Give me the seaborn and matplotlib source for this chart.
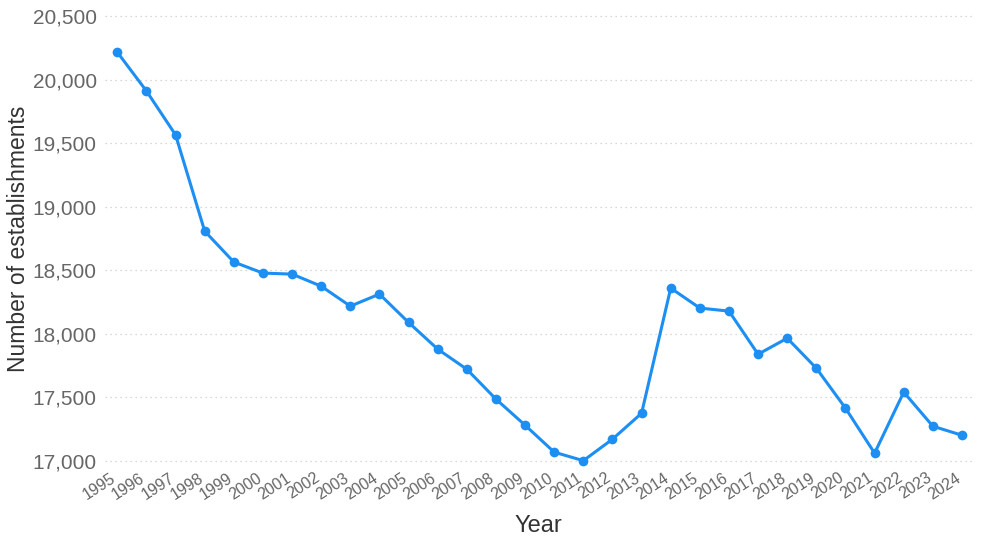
import pandas as pd
import seaborn as sns
import matplotlib.pyplot as plt
import matplotlib.transforms as mtransforms
from matplotlib.ticker import FuncFormatter

years = list(range(1995, 2025))
establishments = [20215, 19910, 19565, 18808, 18565, 18478, 18470, 18375, 18218, 18313,
                  18090, 17880, 17722, 17487, 17282, 17070, 17003, 17172, 17376, 18360,
                  18203, 18179, 17840, 17966, 17730, 17416, 17062, 17542, 17274, 17203]
y_ticks = [17000, 17500, 18000, 18500, 19000, 19500, 20000, 20500]

df = pd.DataFrame({'Year': [str(y) for y in years], 'Establishments': establishments})

sns.set_theme(style='white')
plt.rcParams['font.family'] = ['Liberation Sans', 'DejaVu Sans']

fig = plt.figure(figsize=(9.82, 5.42), dpi=100)
ax = fig.add_axes([0.107, 0.1376, 0.883, 0.8447])

sns.lineplot(data=df, x='Year', y='Establishments', marker='o', color='#1E8FF2',
             linewidth=2.2, markersize=7, markeredgewidth=0, ax=ax, clip_on=False)

ax.set_xlim(-0.42, len(years) - 1 + 0.35)
ax.set_ylim(16950, 20550)
ax.set_yticks(y_ticks)
ax.yaxis.set_major_formatter(FuncFormatter(lambda v, p: f"{int(v):,}"))
ax.grid(axis='y', linestyle=(0, (1, 3)), color='#cccccc', linewidth=0.9)
ax.grid(axis='x', visible=False)
sns.despine(ax=ax, left=True, bottom=True)

ax.tick_params(axis='y', labelsize=15, labelcolor='#666666', length=0, pad=6)
ax.tick_params(axis='x', labelsize=11.5, labelcolor='#666666', length=0, pad=2)
shift = mtransforms.ScaledTranslation(-7 / 100, 0, fig.dpi_scale_trans)
for lbl in ax.get_xticklabels():
    lbl.set_rotation(33)
    lbl.set_ha('right')
    lbl.set_rotation_mode('anchor')
    lbl.set_transform(lbl.get_transform() + shift)

ax.set_xlabel('Year', fontsize=17, color='#333333', labelpad=9)
ax.set_ylabel('Number of establishments', fontsize=16.5, color='#333333')
ax.yaxis.set_label_coords(-0.087, 0.5)

fig.savefig('out.png', dpi=100)
